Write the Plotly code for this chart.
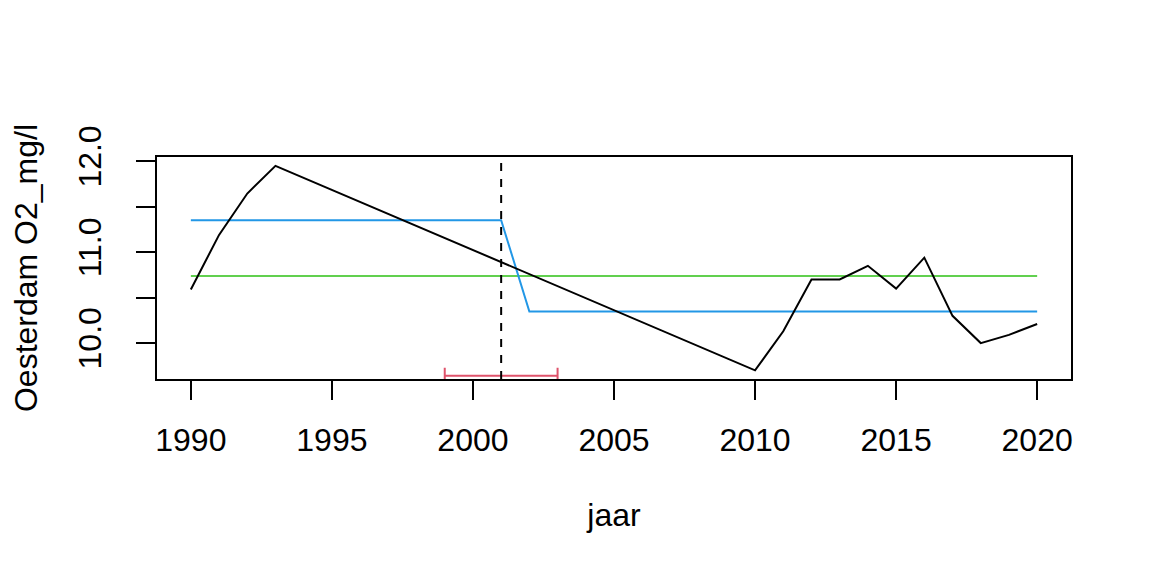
import plotly.graph_objects as go

# measured O2 per year (years without a value are simply absent)
years = [1990, 1991, 1992, 1993, 2010, 2011, 2012, 2013, 2014, 2015,
         2016, 2017, 2018, 2019, 2020]
o2 = [10.59, 11.19, 11.645, 11.95, 9.70, 10.13, 10.70, 10.70, 10.85, 10.60,
      10.94, 10.30, 10.00, 10.09, 10.21]

# fitted step (mean before / after the break)
step_years = [1990, 2001, 2002, 2020]
step_means = [11.352, 11.352, 10.347, 10.347]

# overall mean
mean_years = [1990, 2020]
mean_vals = [10.738, 10.738]

# break point with its confidence interval
break_year = 2001
ci_low = 1999
ci_high = 2003
ci_level = 9.641

font = dict(family="Liberation Sans, Arial, sans-serif", size=32, color="black")

fig = go.Figure()
fig.add_trace(go.Scatter(x=mean_years, y=mean_vals, mode="lines",
                         line=dict(color="#61D04F", width=2)))
fig.add_trace(go.Scatter(x=step_years, y=step_means, mode="lines",
                         line=dict(color="#2297E6", width=2)))
fig.add_trace(go.Scatter(x=years, y=o2, mode="lines",
                         line=dict(color="black", width=2)))
fig.add_trace(go.Scatter(
    x=[break_year], y=[ci_level], mode="markers",
    marker=dict(size=1, opacity=0),
    error_x=dict(type="data", symmetric=False,
                 array=[ci_high - break_year], arrayminus=[break_year - ci_low],
                 color="#DF536B", thickness=2, width=8),
))

fig.add_shape(type="line", x0=break_year, x1=break_year, xref="x",
              y0=0, y1=1, yref="paper",
              line=dict(color="black", width=2, dash="8px,8px"))

# page body adds an 8px offset, so the figure is a bit smaller than the window
fig.update_layout(
    width=1136, height=560,
    margin=dict(l=149, r=73, t=149, b=189),
    paper_bgcolor="white", plot_bgcolor="white",
    showlegend=False,
    font=font,
    xaxis=dict(
        range=[1988.8, 2021.2],
        tickvals=[1990, 1995, 2000, 2005, 2010, 2015, 2020],
        showgrid=False, zeroline=False, automargin=False,
        showline=True, mirror=True, linecolor="black", linewidth=2,
        ticks="outside", ticklen=19, tickwidth=2, tickcolor="black",
        tickfont=font, ticklabelstandoff=13,
        title=dict(text="jaar", font=font, standoff=46),
    ),
    yaxis=dict(
        range=[9.605, 12.047],
        tickvals=[10.0, 10.5, 11.0, 11.5, 12.0],
        ticktext=["10.0", "", "11.0", "", "12.0"],
        tickangle=-90,
        showgrid=False, zeroline=False, automargin=False,
        showline=True, mirror=True, linecolor="black", linewidth=2,
        ticks="outside", ticklen=19, tickwidth=2, tickcolor="black",
        tickfont=font, ticklabelstandoff=22,
        title=dict(text="Oesterdam O2_mg/l", font=font, standoff=40),
    ),
)

fig.write_html("out.html")
